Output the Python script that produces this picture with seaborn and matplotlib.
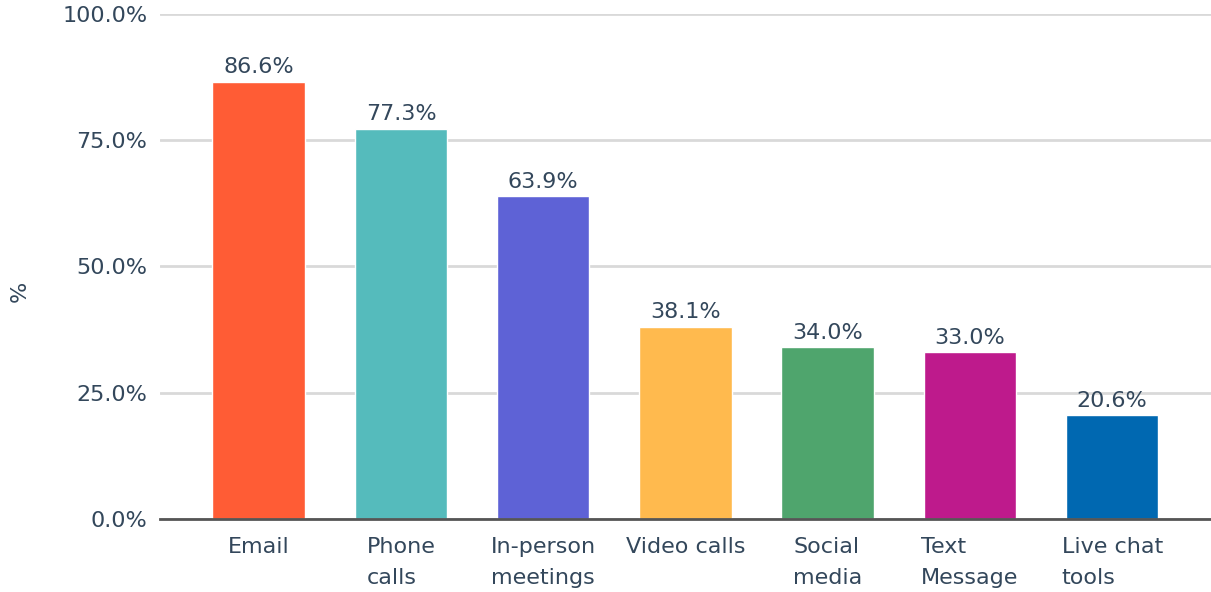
import matplotlib
matplotlib.use("Agg")
import matplotlib.pyplot as plt
import seaborn as sns
import pandas as pd

# Channel usage shares
categories = ["Email", "Phone\ncalls", "In-person\nmeetings", "Video calls",
              "Social\nmedia", "Text\nMessage", "Live chat\ntools"]
values = [86.6, 77.3, 63.9, 38.1, 34.0, 33.0, 20.6]
colors = ["#FF5C35", "#55BBBC", "#5E62D6", "#FFBA4E", "#4FA56D", "#BE1A8C", "#0068B1"]
y_ticks = [0, 25, 50, 75, 100]
y_tick_labels = ["0.0%", "25.0%", "50.0%", "75.0%", "100.0%"]

sns.set_theme(style="white")
plt.rcParams["font.family"] = ["DejaVu Sans"]
text_color = "#33475B"
fs = 16

df = pd.DataFrame({"channel": categories, "share": values})

fig = plt.figure(figsize=(12.11, 5.92), dpi=100)
ax = fig.add_axes([0.132, 0.1233, 0.868, 0.8531])

sns.barplot(data=df, x="channel", y="share", hue="channel",
            palette=colors, legend=False, width=0.65, saturation=1, ax=ax)

for c in ax.containers:
    ax.bar_label(c, labels=[f"{v:.1f}%" for v in c.datavalues],
                 padding=3, fontsize=fs, color=text_color)

ax.set_ylim(0, 100)
ax.set_xlim(-0.695, 6.695)
ax.set_yticks(y_ticks)
ax.set_yticklabels(y_tick_labels, fontsize=fs, color=text_color)
ax.yaxis.grid(True, color="#D9D9D9", linewidth=2)
ax.set_axisbelow(True)
for s in ["top", "right", "left"]:
    ax.spines[s].set_visible(False)
ax.spines["bottom"].set_color("#555555")
ax.spines["bottom"].set_linewidth(2)
ax.spines["bottom"].set_zorder(5)

ax.tick_params(axis="y", length=0, pad=9)
ax.tick_params(axis="x", length=0, pad=13)
for lbl in ax.get_xticklabels():
    lbl.set_fontsize(fs)
    lbl.set_color(text_color)
    lbl.set_multialignment("left")
    lbl.set_linespacing(1.7)
    lbl.set_verticalalignment("top")

ax.set_xlabel("")
ax.set_ylabel("%", fontsize=fs, color=text_color)
ax.yaxis.set_label_coords(-0.124, 0.45)

fig.savefig("out.png", dpi=100)
